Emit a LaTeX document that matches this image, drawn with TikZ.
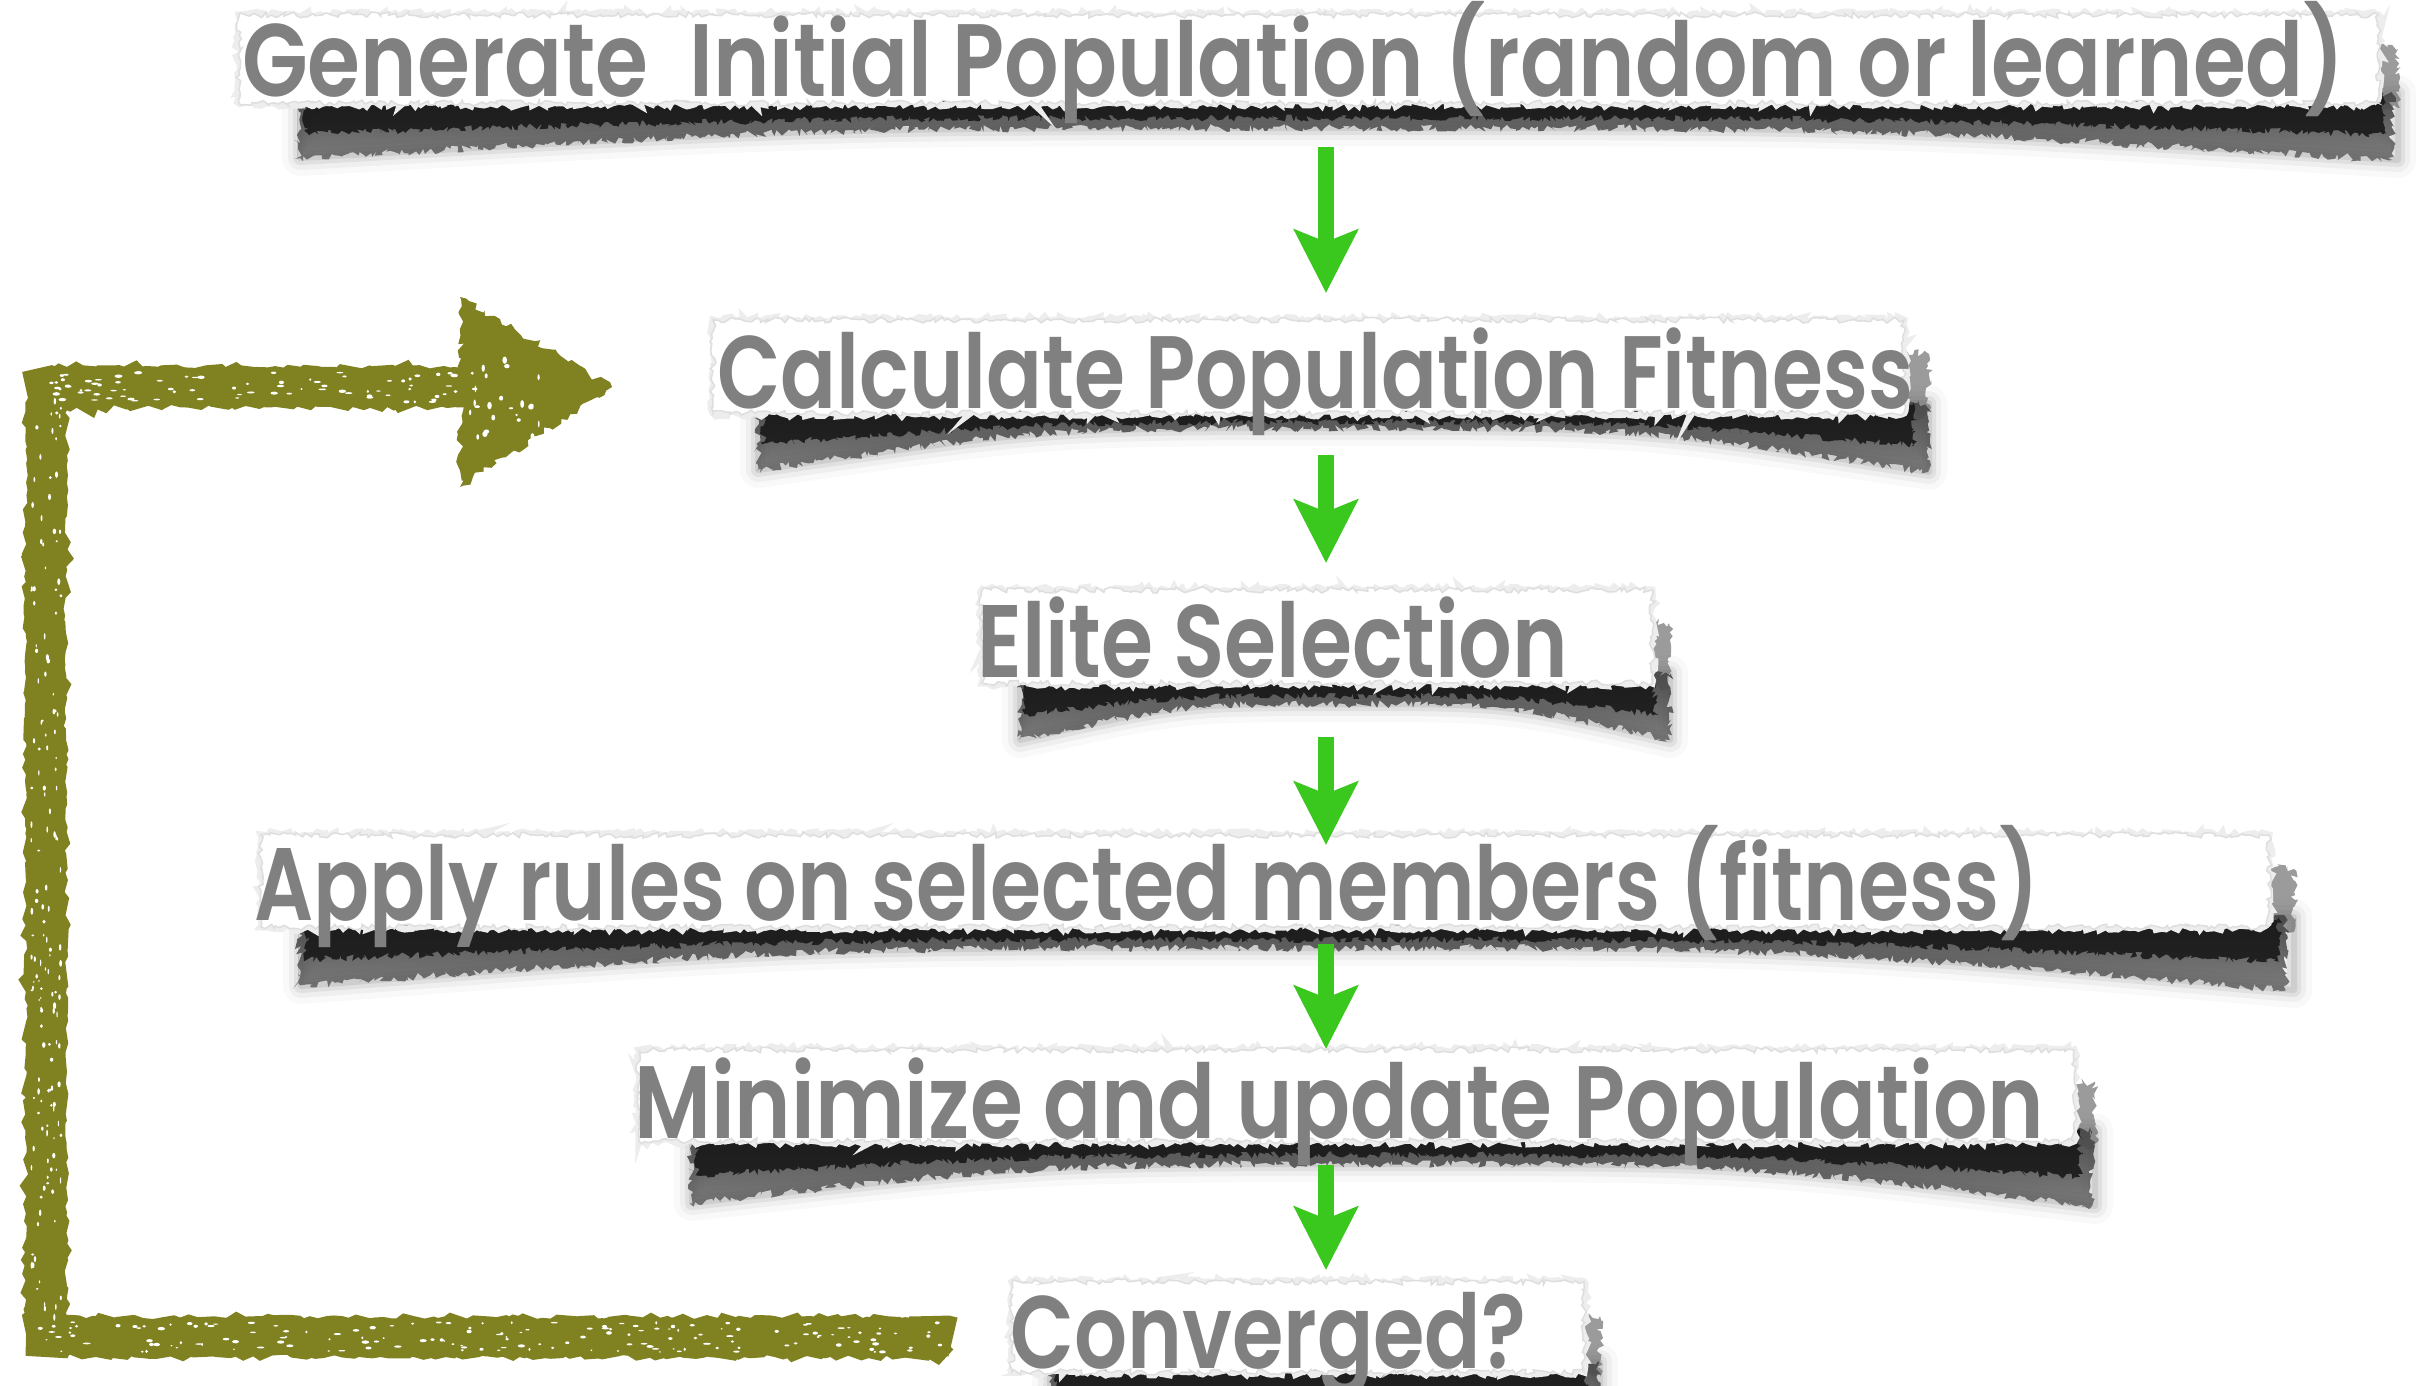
\documentclass[tikz,border=0pt]{standalone}
\usepackage{graphicx}
\usepackage{fontspec}
\newfontfamily\futura{Poppins}[UprightFont={* SemiBold}]
\usetikzlibrary{arrows.meta,decorations.pathmorphing,fadings,calc}
\definecolor{txtgray}{RGB}{128,128,128}
\definecolor{garrowc}{RGB}{58,200,30}
\definecolor{olivec}{RGB}{128,130,34}
\tikzfading[name=shadowfade, top color=transparent!0, bottom color=transparent!30]
\tikzset{
  txt/.style={inner sep=0pt, anchor=base west, text=txtgray, font=\futura\fontsize{103}{110}\selectfont},
  garrow/.style={draw=garrowc, line width=16pt, -{Stealth[length=63pt,width=63pt,inset=12pt]}},
  rough/.style={decorate, decoration={random steps, segment length=4pt, amplitude=3pt}},
  shadowedge/.style={decorate, decoration={random steps, segment length=3pt, amplitude=4pt}},
  olivestroke/.style={draw=olivec, line width=40pt, line join=miter, decorate, decoration={random steps, segment length=6pt, amplitude=2.5pt}},
}
% #1 x1, #2 x2, #3 top, #4 bottom, #5 shadow left, #6 shadow right, #7 left depth, #8 mid depth, #9 right depth
\newcommand{\tornpaper}[9]{%
  \pgfmathsetmacro\mx{(#5+#6)/2}%
  \pgfmathsetmacro\rq{(#6+\mx)/2}%
  \pgfmathsetmacro\lq{(#5+\mx)/2}%
  \pgfmathsetmacro\cl{#4+0.55*(#7-#4)}%
  \pgfmathsetmacro\cm{#4+0.6*(#8-#4)}%
  \pgfmathsetmacro\cr{#4+0.55*(#9-#4)}%
  % soft halo of the shadow
  \foreach \hw/\ho in {36/.025, 24/.04, 14/.06, 6/.08}{
    \draw[black, opacity=\ho, line width=\hw pt, line join=round]
      (#5,-#4+10) -- (#6,-#4+10) -- (#6,-#9) .. controls (\rq,-#8) .. (\mx,-#8) .. controls (\lq,-#8) .. (#5,-#7) -- cycle;
  }
  % right-end shadow band
  \fill[black!60, opacity=.65, shadowedge] (#2-20,-#3-28) -- (#6,-#3-34) -- (#6,-#4-5) -- (#2-20,-#4-5) -- cycle;
  % main shadow body (grey)
  \fill[black!70, path fading=shadowfade, shadowedge]
    (#5,-#4+10) -- (#6,-#4+10) -- (#6,-#9) .. controls (\rq,-#8) .. (\mx,-#8) .. controls (\lq,-#8) .. (#5,-#7) -- cycle;
  % dark core
  \fill[black!92, opacity=.85, decorate, decoration={random steps, segment length=2.5pt, amplitude=3.5pt}]
    (#5+5,-#4+10) -- (#6-15,-#4+10) -- (#6-15,-\cr) .. controls (\rq,-\cm) .. (\mx,-\cm) .. controls (\lq,-\cm) .. (#5+5,-\cl) -- cycle;
  % paper
  \draw[black!7, line width=7pt, rough] (#1,-#3) -- (#2,-#3) -- (#2,-#4) -- (#1,-#4) -- cycle;
  \fill[white, draw=black!13, line width=1.5pt, rough] (#1,-#3) -- (#2,-#3) -- (#2,-#4) -- (#1,-#4) -- cycle;
}
\begin{document}
\begin{tikzpicture}[x=1pt, y=1pt]
\pgfmathsetseed{11}
\fill[white] (0,-1386) rectangle (2419,0);
\useasboundingbox (0,-1386) rectangle (2419,0);

% torn paper strips
\tornpaper{239}{2378}{15}{103}{300}{2398}{158}{128}{160}
\tornpaper{713}{1904}{320}{413}{758}{1929}{470}{428}{472}
\tornpaper{982}{1652}{590}{683}{1020}{1670}{740}{704}{740}
\tornpaper{261}{2269}{835}{927}{301}{2294}{986}{948}{990}
\tornpaper{639}{2074}{1050}{1141}{692}{2095}{1203}{1164}{1206}
\tornpaper{1012}{1584}{1282}{1372}{1050}{1600}{1410}{1400}{1410}

% texts
\node[txt] (t1) at (242,-97)  {\resizebox{2103pt}{\height}{Generate\ \ Initial Population (random or learned)}};
\node[txt] (t2) at (717,-408) {\resizebox{1196pt}{\height}{Calculate Population Fitness}};
\node[txt] (t3) at (977,-677) {\resizebox{591pt}{\height}{Elite Selection}};
\node[txt] (t4) at (254,-920) {\resizebox{1785pt}{\height}{Apply rules on selected members (fitness)}};
\node[txt] (t5) at (634,-1138) {\resizebox{1410pt}{\height}{Minimize and update Population}};
\node[txt] (t6) at (1010,-1368) {\resizebox{516pt}{\height}{Converged?}};

% green arrows
\coordinate (ax) at (1326,0);
\draw[garrow, shorten <=50pt, shorten >=115pt] (t1.base -| ax) -- (t2.base -| ax);
\draw[garrow, shorten <=47pt, shorten >=114pt] (t2.base -| ax) -- (t3.base -| ax);
\draw[garrow, shorten <=60pt, shorten >=75pt]  (t3.base -| ax) -- (t4.base -| ax);
\draw[garrow, shorten <=24pt, shorten >=89pt]  (t4.base -| ax) -- (t5.base -| ax);
\draw[garrow, shorten <=27pt, shorten >=98pt]  (t5.base -| ax) -- (t6.base -| ax);

% olive loop-back arrow
\coordinate (os) at ([shift={(-57pt,31pt)}]t6.base west);
\coordinate (oe) at ([shift={(-105pt,21pt)}]t2.base west);
\coordinate (ol) at (46,0);
\coordinate (ohb) at ([xshift=-145pt]oe);
\draw[olivestroke] (os) -| (ol |- oe) -- (ohb);
\fill[olivec, decorate, decoration={random steps, segment length=5pt, amplitude=4pt}]
  ([shift={(-152pt,90pt)}]oe) -- (oe) -- ([shift={(-152pt,-100pt)}]oe) -- cycle;

% grunge specks on the olive stroke
\foreach \i in {1,...,160}{
  \pgfmathsetmacro\px{40+rnd*905}
  \pgfmathsetmacro\py{-1337+(rnd*2-1)*15}
  \pgfmathsetmacro\ra{1+rnd*3}
  \fill[white] (\px,\py) ellipse ({\ra} and {0.6+rnd*1.2});
}
\foreach \i in {1,...,150}{
  \pgfmathsetmacro\px{46+(rnd*2-1)*15}
  \pgfmathsetmacro\py{-400-rnd*920}
  \pgfmathsetmacro\ra{1+rnd*2.5}
  \fill[white] (\px,\py) ellipse ({0.6+rnd*1.2} and {\ra});
}
\foreach \i in {1,...,80}{
  \pgfmathsetmacro\px{50+rnd*410}
  \pgfmathsetmacro\py{-387+(rnd*2-1)*15}
  \pgfmathsetmacro\ra{1+rnd*3}
  \fill[white] (\px,\py) ellipse ({\ra} and {0.6+rnd*1.2});
}
\foreach \i in {1,...,25}{
  \pgfmathsetmacro\px{470+rnd*70}
  \pgfmathsetmacro\py{-387+(rnd*2-1)*50}
  \fill[white] (\px,\py) ellipse ({0.8+rnd*2} and {1+rnd*3});
}
\end{tikzpicture}
\end{document}
